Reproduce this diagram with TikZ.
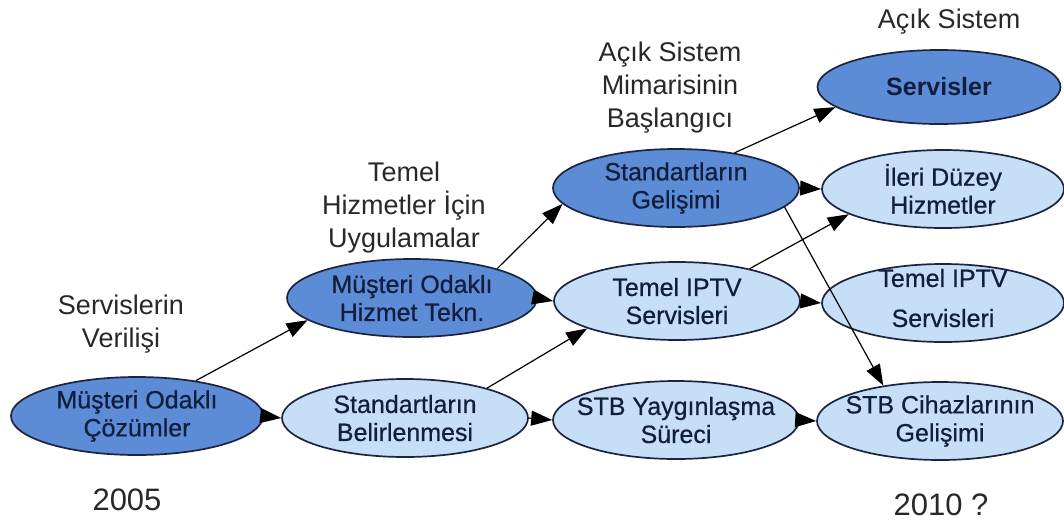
\documentclass[tikz,border=0pt]{standalone}
\usepackage{fontspec}
\setmainfont{Liberation Sans}
\usetikzlibrary{arrows.meta,shapes.geometric}
\definecolor{deepfill}{RGB}{92,140,214}
\definecolor{palefill}{RGB}{198,222,246}
\definecolor{rim}{RGB}{28,36,64}
\definecolor{inktext}{RGB}{18,30,62}
\definecolor{captext}{RGB}{40,40,40}
\begin{document}
\begin{tikzpicture}[x=1pt,y=-1pt,
  oval/.style={ellipse, draw=rim, line width=1.7pt, minimum width=246pt, minimum height=78pt, inner sep=0pt},
  deep/.style={oval, fill=deepfill},
  pale/.style={oval, fill=palefill},
  ovaltext/.style={text=inktext, align=center, font=\fontsize{25}{28}\selectfont\addfontfeature{FakeBold=0.6}, inner sep=0pt},
  caption/.style={text=captext, align=center, font=\fontsize{27}{33}\selectfont, inner sep=0pt},
  year/.style={text=captext, font=\fontsize{31}{36}\selectfont, inner sep=0pt},
  link/.style={draw=black, line width=1.2pt, -{Triangle[length=21pt,width=15pt]}},
]
\useasboundingbox (0,0) rectangle (1064,525);

% ellipses
\node[deep, minimum width=252pt] (c1) at (137,416) {};
\node[pale] (sb) at (405,418) {};
\node[pale] (sy) at (676,420) {};
\node[pale] (sc) at (940,421) {};
\node[deep, minimum width=250pt] (m2) at (412,298) {};
\node[pale] (t2) at (677,301) {};
\node[pale, minimum width=242pt] (t3) at (943,303) {};
\node[deep] (sg) at (676,188) {};
\node[pale, minimum width=242pt] (id) at (943,189) {};
\node[deep, minimum width=243pt, minimum height=74pt] (sv) at (939,87) {};

% connectors
\draw[link] (c1.east) -- (sb.west);
\draw[link] (sb.east) -- (sy.west);
\draw[link] (sy.east) -- (sc.west);
\draw[link] (m2.east) -- (t2.west);
\draw[link] (t2.east) -- (t3.west);
\draw[link] (sg.east) -- (id.west);
\draw[link] (c1.31) -- (m2.192);
\draw[link] (sb.20) -- (t2.197);
\draw[link] (m2.19) -- (sg.188);
\draw[link] (t2.24) -- (id.195);
\draw[link] (sg.31) -- (sv.191);
\draw[link] (sg.-10) -- (sc.148);

% texts inside the ellipses
\node[ovaltext] (c1-t) at (c1) {Müşteri Odaklı\\Çözümler};
\node[ovaltext] (sb-t) at (sb) {Standartların\\Belirlenmesi};
\node[ovaltext] (sy-t) at (sy) {STB Yaygınlaşma\\Süreci};
\node[ovaltext] (sc-t) at (sc) {STB Cihazlarının\\Gelişimi};
\node[ovaltext] (m2-t) at (m2) {Müşteri Odaklı\\Hizmet Tekn.};
\node[ovaltext] (t2-t) at (t2) {Temel IPTV\\Servisleri};
\node[ovaltext] (t3-t) at (943,298) {Temel IPTV\\[12pt]Servisleri};
\node[ovaltext] (sg-t) at (sg) {Standartların\\Gelişimi};
\node[ovaltext] (id-t) at (id) {İleri Düzey\\Hizmetler};
\node[ovaltext, font=\fontsize{25}{28}\selectfont\bfseries] (sv-t) at (sv) {Servisler};

% stage captions
\node[caption] (cap1) at (121,324) {Servislerin\\Verilişi};
\node[caption] (cap2) at (404,208) {Temel\\Hizmetler İçin\\Uygulamalar};
\node[caption] (cap3) at (670,88) {Açık Sistem\\Mimarisinin\\Başlangıcı};
\node[caption] (cap4) at (949,22) {Açık Sistem};

% years
\node[year] (y1) at (127,500) {2005};
\node[year] (y2) at (941,505) {2010 ?};
\end{tikzpicture}
\end{document}
